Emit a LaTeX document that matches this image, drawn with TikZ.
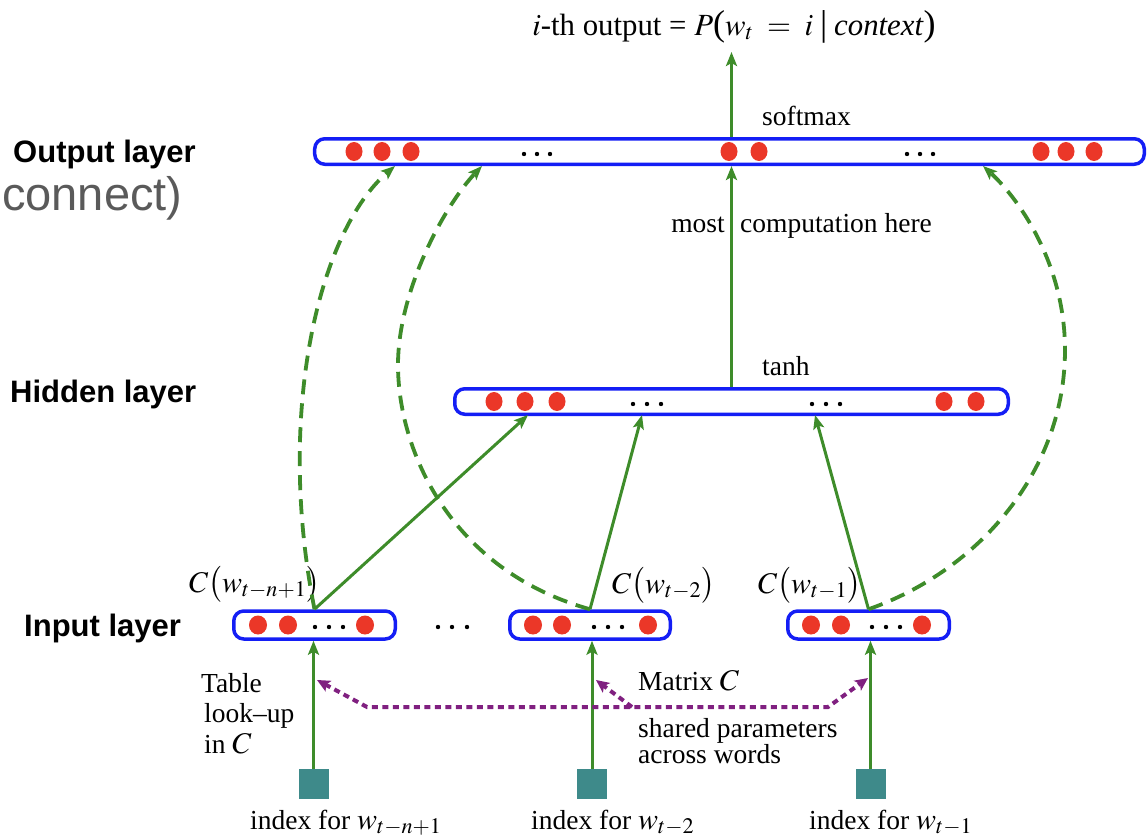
\documentclass[tikz,border=0pt]{standalone}
\usepackage{mathptmx}
\usepackage{fontspec}
\setmainfont{Liberation Serif}
\newfontfamily\laysans{Liberation Sans}
\usetikzlibrary{arrows.meta}
\definecolor{ngreen}{RGB}{62,140,42}
\definecolor{nblue}{RGB}{20,30,245}
\definecolor{nred}{RGB}{235,55,40}
\definecolor{nteal}{RGB}{62,138,138}
\definecolor{npurp}{RGB}{128,32,128}
\definecolor{ngrey}{RGB}{90,90,90}
\newcommand\bigtxt[1]{{\fontsize{36bp}{36bp}\selectfont #1}}
\tikzset{
  lbox/.style={draw=nblue, line width=3.5bp, rounded corners=10bp, inner sep=0pt, fill=white},
  txt/.style={font=\fontsize{27.5bp}{30bp}\selectfont, inner sep=0pt},
  mtxt/.style={font=\fontsize{30bp}{32bp}\selectfont, inner sep=0pt},
  lay/.style={font=\fontsize{31bp}{34bp}\selectfont\laysans\bfseries, inner sep=0pt},
  garrow/.style={draw=ngreen, line width=3bp, -{Stealth[length=14bp,width=11bp,inset=3bp]}},
  gdash/.style={garrow, line width=3.8bp, dash pattern=on 15bp off 9bp},
  parrow/.style={draw=npurp, line width=4bp, dash pattern=on 6bp off 4.5bp},
  ptip/.style={-{Stealth[length=13bp,width=12bp,inset=3bp]}},
  ptips/.style={{Stealth[length=13bp,width=12bp,inset=3bp]}-{Stealth[length=13bp,width=12bp,inset=3bp]}},
  idxbox/.style={fill=nteal, minimum size=30bp, inner sep=0pt},
}
\begin{document}
\begin{tikzpicture}[x=1bp,y=-1bp]
\useasboundingbox (0,0) rectangle (1148,839);

% left labels
\node[lay, anchor=base west] (lo) at (13,162) {Output layer};
\node[lay, anchor=base west] (lh) at (10,402) {Hidden layer};
\node[lay, anchor=base west] (li) at (24,636) {Input layer};
\node[inner sep=0pt, anchor=base west, text=ngrey, font=\fontsize{47bp}{50bp}\selectfont\laysans] (cn) at (2,210) {connect)};

% boxes
\node[lbox, minimum width=829.5bp, minimum height=25.5bp] (out) at (729.5,151.5) {};
\node[lbox, minimum width=553.5bp, minimum height=25.5bp] (hid) at (731.5,401.5) {};
\node[lbox, minimum width=161.5bp, minimum height=28bp] (in1) at (314.5,625) {};
\node[lbox, minimum width=160.5bp, minimum height=28bp] (in2) at (590,625) {};
\node[lbox, minimum width=161.5bp, minimum height=28bp] (in3) at (868.5,625) {};

% neurons
\foreach \x in {354,382,411,729,759,1041,1066,1094}
  \fill[nred] (\x,151.5) ellipse [x radius=8.5bp, y radius=9.5bp];
\foreach \x in {524,537,550,907,920,933}
  \fill (\x,154) circle [radius=2.2bp];
\foreach \x in {494,525,557,944,976}
  \fill[nred] (\x,401.5) ellipse [x radius=8.5bp, y radius=9.5bp];
\foreach \x in {633,647,661,812,826,840}
  \fill (\x,404) circle [radius=2.2bp];
\foreach \x in {258,288,365, 533,562,648, 811,841,922}
  \fill[nred] (\x,625) ellipse [x radius=9bp, y radius=9.5bp];
\foreach \x in {315,329,343, 594,608,622, 872,886,900, 438,452,467}
  \fill (\x,627) circle [radius=2.2bp];

% texts
\node[txt, font=\fontsize{30.8bp}{32bp}\selectfont, anchor=base] (title) at (734,35)
  {$i$-th output = $P$\bigtxt{(}$w_t \;=\; i\;$\bigtxt{|}$\;$\textit{context}\bigtxt{)}};
\node[txt, anchor=base west] (sm) at (762,125) {softmax};
\node[txt, anchor=base west] (th) at (762,375) {tanh};
\node[txt, anchor=base east] (most) at (725,232) {most};
\node[txt, anchor=base west] (comp) at (740,232) {computation here};
\node[mtxt, anchor=base west] (c1) at (189,592) {$C\bigl(w_{t-n+1}\bigr)$};
\node[mtxt, anchor=base west] (c2) at (612,593) {$C\bigl(w_{t-2}\bigr)$};
\node[mtxt, anchor=base west] (c3) at (758,593) {$C\bigl(w_{t-1}\bigr)$};
\node[txt, anchor=base west] (tb1) at (201,692) {Table};
\node[txt, anchor=base west] (tb2) at (204,722) {look--up};
\node[txt, anchor=base west] (tb3) at (204,753) {in {\fontsize{30bp}{30bp}\selectfont$C$}};
\node[txt, anchor=base west] (mc) at (638,690) {Matrix {\fontsize{30bp}{30bp}\selectfont$C$}};
\node[txt, anchor=base west] (sp1) at (638,737) {shared parameters};
\node[txt, anchor=base west] (sp2) at (638,763) {across words};
\node[txt, anchor=base west] (ix1) at (250,829) {index for {\fontsize{30bp}{30bp}\selectfont$w_{t-n+1}$}};
\node[txt, anchor=base west] (ix2) at (531,829) {index for {\fontsize{30bp}{30bp}\selectfont$w_{t-2}$}};
\node[txt, anchor=base west] (ix3) at (809,829) {index for {\fontsize{30bp}{30bp}\selectfont$w_{t-1}$}};

% index squares
\node[idxbox] (sq1) at (313.5,784) {};
\node[idxbox] (sq2) at (592,784) {};
\node[idxbox] (sq3) at (870.5,784) {};

% coordinates
\coordinate (toptip) at (731.5,52);
\coordinate (h1) at (528,415);
\coordinate (h2) at (642,415);
\coordinate (h3) at (815,415);
\coordinate (o1) at (395,166);
\coordinate (o2) at (482,166);
\coordinate (o3) at (983,166);
\coordinate (m2) at (398,365);
\coordinate (m3) at (1065,350);
\coordinate (pL) at (317,680);
\coordinate (pM) at (596,680);
\coordinate (pR) at (868,678);
\coordinate (pa) at (367,707);
\coordinate (pb) at (828,707);
\coordinate (pc) at (632,707);

% solid arrows
\draw[garrow] (out.north -| hid.north) -- (toptip);
\draw[garrow] (hid.north) -- (out.south -| hid.north);
\draw[garrow] (in1.north) -- (h1);
\draw[garrow] (in2.north) -- (h2);
\draw[garrow] (in3.north) -- (h3);
\draw[garrow] (sq1.north) -- (sq1.north |- in1.south);
\draw[garrow] (sq2.north) -- (sq2.north |- in2.south);
\draw[garrow] (sq3.north) -- (sq3.north |- in3.south);

% dashed arrows
\draw[gdash] (in1.north) .. controls (275,410) and (320,230) .. (o1);
\draw[gdash] (in2.north) .. controls (450,570) and (398,450) .. (m2)
                        .. controls (398,290) and (445,205) .. (o2);
\draw[gdash] (in3.north) .. controls (980,570) and (1065,470) .. (m3)
                        .. controls (1065,260) and (1015,195) .. (o3);

% purple dotted arrows
\draw[parrow, ptips] (pL) -- (pa) -- (pb) -- (pR);
\draw[parrow, ptip] (pc) -- (pM);
\end{tikzpicture}
\end{document}
